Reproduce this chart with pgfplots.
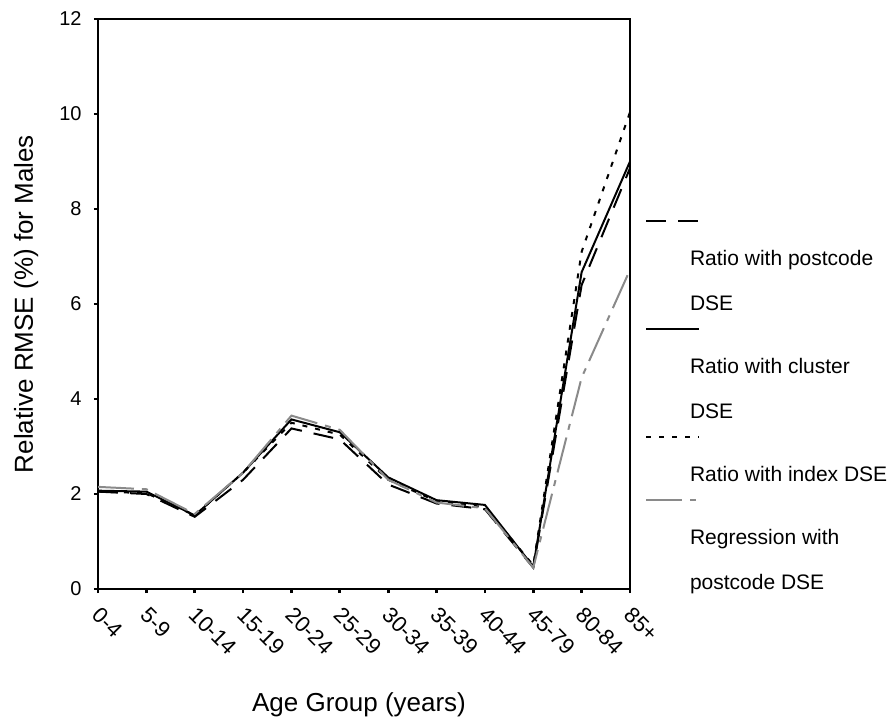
\documentclass[border=0pt]{standalone}
\usepackage{pgfplots}
\pgfplotsset{compat=1.18}
\usepackage{fontspec}
\setmainfont{Liberation Sans}
\definecolor{reggray}{RGB}{138,138,138}
\pgfplotsset{
  legimg/.style={legend image code/.code={%
      \path (0pt,0pt) -- (21.5pt,0pt);
      \draw[##1,overlay] (0pt,0pt) -- (26.5pt,0pt);}},
}
\begin{document}
\begin{tikzpicture}
\begin{axis}[
  scale only axis, width=266pt, height=285pt,
  xmin=0, xmax=11, ymin=0, ymax=12,
  xtick={0,...,11},
  xticklabels={0-4,5-9,10-14,15-19,20-24,25-29,30-34,35-39,40-44,45-79,80-84,85+},
  ytick={0,2,...,12},
  xtick pos=bottom, ytick pos=left,
  tick align=outside, major tick length=2pt,
  tick style={black, line width=1.4pt},
  axis line style={line width=1pt},
  /pgf/number format/assume math mode=true,
  yticklabel style={font=\fontsize{10}{12}\selectfont, inner sep=0pt, anchor=east, xshift=-6pt},
  xticklabel style={font=\fontsize{11}{13}\selectfont, rotate=-45, anchor=north west, inner sep=0pt, xshift=5.5pt, yshift=-3pt},
  xlabel={Age Group (years)},
  ylabel={Relative RMSE (\%) for Males},
  xlabel style={at={([yshift=-61pt,xshift=-2.5pt]axis description cs:0.5,0)}, anchor=base, font=\fontsize{13}{15}\selectfont},
  ylabel style={at={([xshift=-32.5pt]axis description cs:0,0.5)}, anchor=base, rotate=0, font=\fontsize{13}{15}\selectfont},
  legend style={draw=none, fill=none, at={(rel axis cs:1,0.647)}, anchor=north west, xshift=7.5pt,
    inner sep=0pt, outer sep=0pt, row sep=0pt, column sep=0pt,
    cells={anchor=base west},
    nodes={inner sep=0pt, text height=13.5pt, text depth=9pt, font=\fontsize{10.5}{12}\selectfont}},
]
\addplot[black, line width=1pt, dash pattern=on 10pt off 6pt, legimg] coordinates {
(0,2.05) (1,2.0) (2,1.52) (3,2.3) (4,3.38) (5,3.15) (6,2.2) (7,1.8) (8,1.68) (9,0.45) (10,6.4) (11,8.86)};
\addlegendentry[text height=0pt, text depth=8.5pt]{\mbox{}}
\addlegendimage{empty legend}\addlegendentry{Ratio with postcode}
\addlegendimage{empty legend}\addlegendentry{DSE}
\addplot[black, line width=1pt, legimg] coordinates {
(0,2.07) (1,2.05) (2,1.55) (3,2.45) (4,3.57) (5,3.3) (6,2.35) (7,1.87) (8,1.77) (9,0.47) (10,6.67) (11,9.0)};
\addlegendentry[text height=0pt, text depth=8.5pt]{\mbox{}}
\addlegendimage{empty legend}\addlegendentry{Ratio with cluster}
\addlegendimage{empty legend}\addlegendentry{DSE}
\addplot[black, line width=1pt, dash pattern=on 2.5pt off 4pt, legimg] coordinates {
(0,2.05) (1,2.02) (2,1.55) (3,2.45) (4,3.5) (5,3.25) (6,2.3) (7,1.85) (8,1.72) (9,0.5) (10,7.1) (11,10.04)};
\addlegendentry[text height=0pt, text depth=8.5pt]{\mbox{}}
\addlegendimage{empty legend}\addlegendentry{Ratio with index DSE}
\addplot[reggray, line width=1pt, dash pattern=on 18pt off 4pt on 3pt off 4pt, legimg] coordinates {
(0,2.15) (1,2.1) (2,1.58) (3,2.45) (4,3.65) (5,3.35) (6,2.3) (7,1.82) (8,1.7) (9,0.45) (10,4.45) (11,6.72)};
\addlegendentry[text height=0pt, text depth=8.5pt]{\mbox{}}
\addlegendimage{empty legend}\addlegendentry{Regression with}
\addlegendimage{empty legend}\addlegendentry{postcode DSE}
\end{axis}
\path (-49pt,-66.5pt) rectangle (397.5pt,294.5pt);
\end{tikzpicture}
\end{document}
